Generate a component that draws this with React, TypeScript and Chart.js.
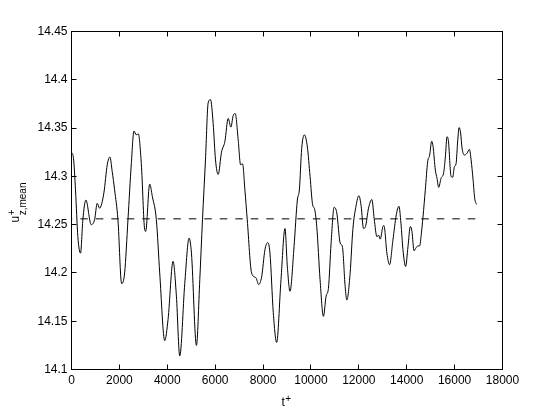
import React, { useEffect, useRef } from "react";
import { Chart, registerables } from "chart.js";

Chart.register(...registerables);

// Time axis values (t+) of the sampled series
const timeValues = [
  0, 84, 167, 265, 377, 474, 600, 823, 963, 1074, 1172, 1353, 1493, 1605, 1700, 1800, 1940,
  2093, 2219, 2358, 2498, 2609, 2707, 2791, 2916, 3056, 3098, 3265, 3377, 3544, 3684, 3893,
  4033, 4242, 4381, 4521, 4730, 4911, 5009, 5218, 5358, 5470, 5595, 5707, 5805, 5916, 6014,
  6126, 6265, 6405, 6544, 6656, 6753, 6837, 6963, 7061, 7145, 7242, 7340, 7522, 7702, 7815,
  7941, 8079, 8192, 8288, 8427, 8568, 8749, 8916, 9013, 9126, 9293, 9432, 9516, 9614, 9725,
  9851, 9963, 10075, 10143, 10243, 10381, 10521, 10633, 10730, 10842, 10968, 11080, 11220,
  11315, 11428, 11500, 11637, 11750, 11888, 12001, 12098, 12194, 12278, 12404, 12545, 12642,
  12754, 12830, 12893, 13005, 13050, 13172, 13283, 13424, 13563, 13675, 13759, 13843, 13954,
  14052, 14149, 14219, 14303, 14390, 14470, 14540, 14610, 14680, 14777, 14874, 14958, 15042,
  15100, 15195, 15265, 15335, 15433, 15545, 15614, 15684, 15740, 15852, 15920, 15991, 16060,
  16131, 16187, 16250, 16313, 16409, 16520, 16619, 16689, 16773, 16841, 16912,
];

// u+_{z,mean} values at those times
const uMeanValues = [
  14.325, 14.3186, 14.286, 14.2376, 14.2205, 14.255, 14.2755, 14.25, 14.255, 14.272, 14.267,
  14.283, 14.312, 14.32, 14.305, 14.286, 14.255, 14.189, 14.2, 14.255, 14.313, 14.347, 14.343,
  14.344, 14.313, 14.245, 14.243, 14.292, 14.279, 14.255, 14.2, 14.13, 14.152, 14.212, 14.176,
  14.114, 14.189, 14.236, 14.2205, 14.125, 14.193, 14.255, 14.317, 14.376, 14.3795, 14.355,
  14.317, 14.302, 14.325, 14.336, 14.36, 14.351, 14.363, 14.365, 14.3375, 14.312, 14.313,
  14.286, 14.255, 14.2, 14.195, 14.188, 14.196, 14.224, 14.2315, 14.2205, 14.159, 14.128,
  14.193, 14.246, 14.207, 14.181, 14.227, 14.2755, 14.286, 14.329, 14.343, 14.3305, 14.3,
  14.27, 14.267, 14.248, 14.193, 14.155, 14.176, 14.184, 14.231, 14.268, 14.262, 14.231,
  14.227, 14.186, 14.172, 14.2, 14.245, 14.27, 14.28, 14.269, 14.246, 14.248, 14.267, 14.276,
  14.256, 14.2376, 14.239, 14.235, 14.248, 14.249, 14.2205, 14.2085, 14.234, 14.26, 14.269,
  14.2515, 14.224, 14.2067, 14.227, 14.248, 14.243, 14.223, 14.226, 14.228, 14.228, 14.2405,
  14.258, 14.286, 14.315, 14.322, 14.3364, 14.331, 14.3065, 14.298, 14.2886, 14.298, 14.304,
  14.3202, 14.341, 14.337, 14.3, 14.299, 14.31, 14.313, 14.3375, 14.3506, 14.345, 14.329,
  14.322, 14.324, 14.328, 14.317, 14.296, 14.277, 14.271,
];

const meanLevel = 14.256;

const xTicks = [0, 2000, 4000, 6000, 8000, 10000, 12000, 14000, 16000, 18000];
const yTicks = [14.1, 14.15, 14.2, 14.25, 14.3, 14.35, 14.4, 14.45];

const xTitleMain = "t";
const xTitleSup = "+";
const yTitleMain = "u";
const yTitleSup = "+";
const yTitleSub = "z,mean";

const FONT = '"Liberation Sans", Arial, Helvetica, sans-serif';

const framePlugin = {
  id: "matlabFrame",
  afterDraw(chart: any) {
    const ctx = chart.ctx as CanvasRenderingContext2D;
    const { left, right, top, bottom } = chart.chartArea;
    const xs = chart.scales.x;
    const ys = chart.scales.y;
    ctx.save();
    ctx.strokeStyle = "#000";
    ctx.lineWidth = 1;
    ctx.strokeRect(left, top, right - left, bottom - top);
    const tl = 5;
    ctx.beginPath();
    xTicks.forEach((v) => {
      const p = Math.round(xs.getPixelForValue(v) - 0.5) + 0.5;
      ctx.moveTo(p, bottom);
      ctx.lineTo(p, bottom - tl);
      ctx.moveTo(p, top);
      ctx.lineTo(p, top + tl);
    });
    yTicks.forEach((v) => {
      const p = Math.round(ys.getPixelForValue(v) - 0.5) + 0.5;
      ctx.moveTo(left, p);
      ctx.lineTo(left + tl, p);
      ctx.moveTo(right, p);
      ctx.lineTo(right - tl, p);
    });
    ctx.stroke();

    // x title: t^+
    ctx.fillStyle = "#000";
    ctx.textBaseline = "alphabetic";
    ctx.textAlign = "left";
    ctx.font = `12px ${FONT}`;
    const cx = (left + right) / 2;
    const tw = ctx.measureText(xTitleMain).width;
    ctx.font = `10px ${FONT}`;
    const sw = ctx.measureText(xTitleSup).width;
    const startX = cx - (tw + sw) / 2 - 1;
    ctx.font = `12px ${FONT}`;
    ctx.fillText(xTitleMain, startX, 406);
    ctx.font = `10px ${FONT}`;
    ctx.fillText(xTitleSup, startX + tw + 0.5, 402);

    // y title: u^+_{z,mean}, rotated
    ctx.save();
    ctx.translate(18.5, 222.5);
    ctx.rotate(-Math.PI / 2);
    ctx.font = `12px ${FONT}`;
    const uw = ctx.measureText(yTitleMain).width;
    ctx.fillText(yTitleMain, 0, 0);
    ctx.font = `10px ${FONT}`;
    ctx.fillText(yTitleSup, uw + 0.5, -3.5);
    ctx.fillText(yTitleSub, uw + 0.5, 7.5);
    ctx.restore();

    ctx.restore();
  },
};

export default function App() {
  const ref = useRef<HTMLCanvasElement>(null);
  useEffect(() => {
    if (!ref.current) return;
    const last = timeValues.length - 1;
    const chart = new Chart(ref.current, {
      type: "line",
      data: {
        datasets: [
          {
            data: timeValues.map((t, i) => ({ x: t, y: uMeanValues[i] })),
            borderColor: "#000",
            borderWidth: 1,
            pointRadius: 0,
            cubicInterpolationMode: "monotone",
            fill: false,
          },
          {
            data: [
              { x: timeValues[0], y: meanLevel },
              { x: timeValues[last], y: meanLevel },
            ],
            borderColor: "#000",
            borderWidth: 1,
            borderDash: [7.5, 8],
            borderDashOffset: 6.7,
            pointRadius: 0,
            fill: false,
          },
        ],
      },
      options: {
        animation: false,
        responsive: false,
        devicePixelRatio: 1,
        layout: { padding: { left: 0, top: 31.5, right: 51.5, bottom: 0 } },
        plugins: {
          legend: { display: false },
          tooltip: { enabled: false },
        },
        scales: {
          x: {
            type: "linear",
            min: 0,
            max: 18000,
            afterBuildTicks: (s: any) => {
              s.ticks = xTicks.map((v) => ({ value: v }));
            },
            afterFit: (s: any) => {
              s.height = 46.5;
            },
            ticks: {
              autoSkip: false,
              maxRotation: 0,
              padding: 4,
              color: "#000",
              font: { family: FONT, size: 12 },
              callback: (v: any) => String(v),
            },
            grid: { display: false, drawTicks: false },
            border: { display: false },
          },
          y: {
            type: "linear",
            min: 14.1,
            max: 14.45,
            afterBuildTicks: (s: any) => {
              s.ticks = yTicks.map((v) => ({ value: v }));
            },
            afterFit: (s: any) => {
              s.width = 71.5;
            },
            ticks: {
              autoSkip: false,
              padding: 4,
              color: "#000",
              font: { family: FONT, size: 12 },
              callback: (v: any) => String(Number(Number(v).toFixed(2))),
            },
            grid: { display: false, drawTicks: false },
            border: { display: false },
          },
        },
      },
      plugins: [framePlugin],
    });
    return () => chart.destroy();
  }, []);
  return (
    <div style={{ position: "absolute", left: 0, top: 0, width: 554, height: 416, background: "#fff" }}>
      <canvas ref={ref} width={554} height={416} style={{ width: 554, height: 416, display: "block" }} />
    </div>
  );
}
